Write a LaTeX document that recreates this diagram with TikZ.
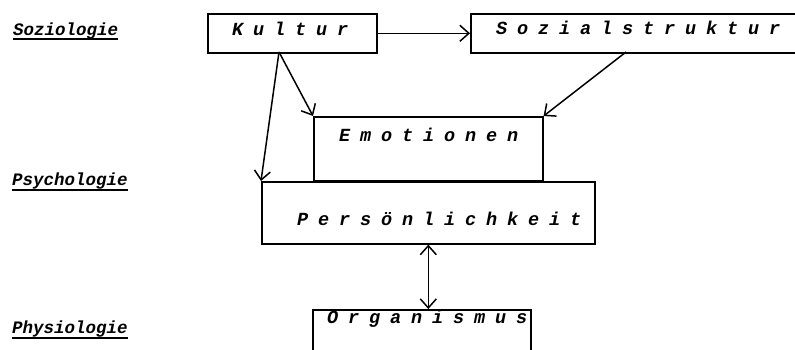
\documentclass[tikz,border=0pt]{standalone}
\usepackage{fontspec}
\setmonofont{Liberation Mono}
\newfontfamily\spacedfont[LetterSpace=53.5]{Liberation Mono}
\usetikzlibrary{arrows.meta}
\tikzset{
  box/.style={draw, line width=1.6pt, inner sep=0pt, anchor=north west},
  boxtext/.style={font=\fontsize{18.5}{20}\selectfont\spacedfont\bfseries\itshape, inner sep=0pt, anchor=base west},
  leveltext/.style={font=\fontsize{17.5}{20}\selectfont\ttfamily\bfseries\itshape, inner sep=0pt, anchor=base west},
  tip/.style={Straight Barb[length=9pt,width=16pt,line width=1.5pt]},
  conn/.style={line width=1.5pt, -{Straight Barb[length=9pt,width=16pt,line width=1.5pt]}},
  dconn/.style={line width=1.5pt, {Straight Barb[length=9pt,width=16pt,line width=1.5pt]}-{Straight Barb[length=9pt,width=16pt,line width=1.5pt]}},
  uline/.style={line width=1.4pt}
}
\begin{document}
\begin{tikzpicture}[x=1pt,y=-1pt]
\useasboundingbox (0,0) rectangle (795,349);
\clip (0,0) rectangle (795,349);
% boxes
\node[box, minimum width=169pt, minimum height=39pt] (kultur) at (207,13) {};
\node[box, minimum width=340pt, minimum height=39pt] (sozial) at (470,13) {};
\node[box, minimum width=229pt, minimum height=64pt] (emo) at (313,116) {};
\node[box, minimum width=333pt, minimum height=62pt] (pers) at (261,181) {};
\node[box, minimum width=218pt, minimum height=60pt] (org) at (312,309) {};
% box texts
\node[boxtext] (tk) at (232,35.5) {Kultur};
\node[boxtext] (ts) at (496,34.5) {Sozialstruktur};
\node[boxtext] (te) at (339,141.5) {Emotionen};
\node[boxtext] (tp) at (297,225.5) {Persönlichkeit};
\node[boxtext] (to) at (327,323.5) {Organismus};
% level labels
\node[leveltext] (soz) at (13,35) {Soziologie};
\node[leveltext] (psy) at (12,185) {Psychologie};
\node[leveltext] (phy) at (12,333) {Physiologie};
\draw[uline] ([yshift=-4pt]soz.base west) -- ([yshift=-4pt]soz.base east);
\draw[uline] ([yshift=-5pt]psy.base west) -- ([yshift=-5pt]psy.base east);
\draw[uline] ([yshift=-5pt]phy.base west) -- ([yshift=-5pt]phy.base east);
% connectors
\coordinate (k1) at (279,52);
\coordinate (s1) at (626,52);
\draw[conn] (kultur.east) -- (sozial.west);
\draw[conn] (k1) -- (pers.north west);
\draw[conn] (k1) -- (emo.north west);
\draw[conn] (s1) -- (emo.north east);
\draw[dconn] (pers.south) -- (pers.south |- org.north);
\end{tikzpicture}
\end{document}
